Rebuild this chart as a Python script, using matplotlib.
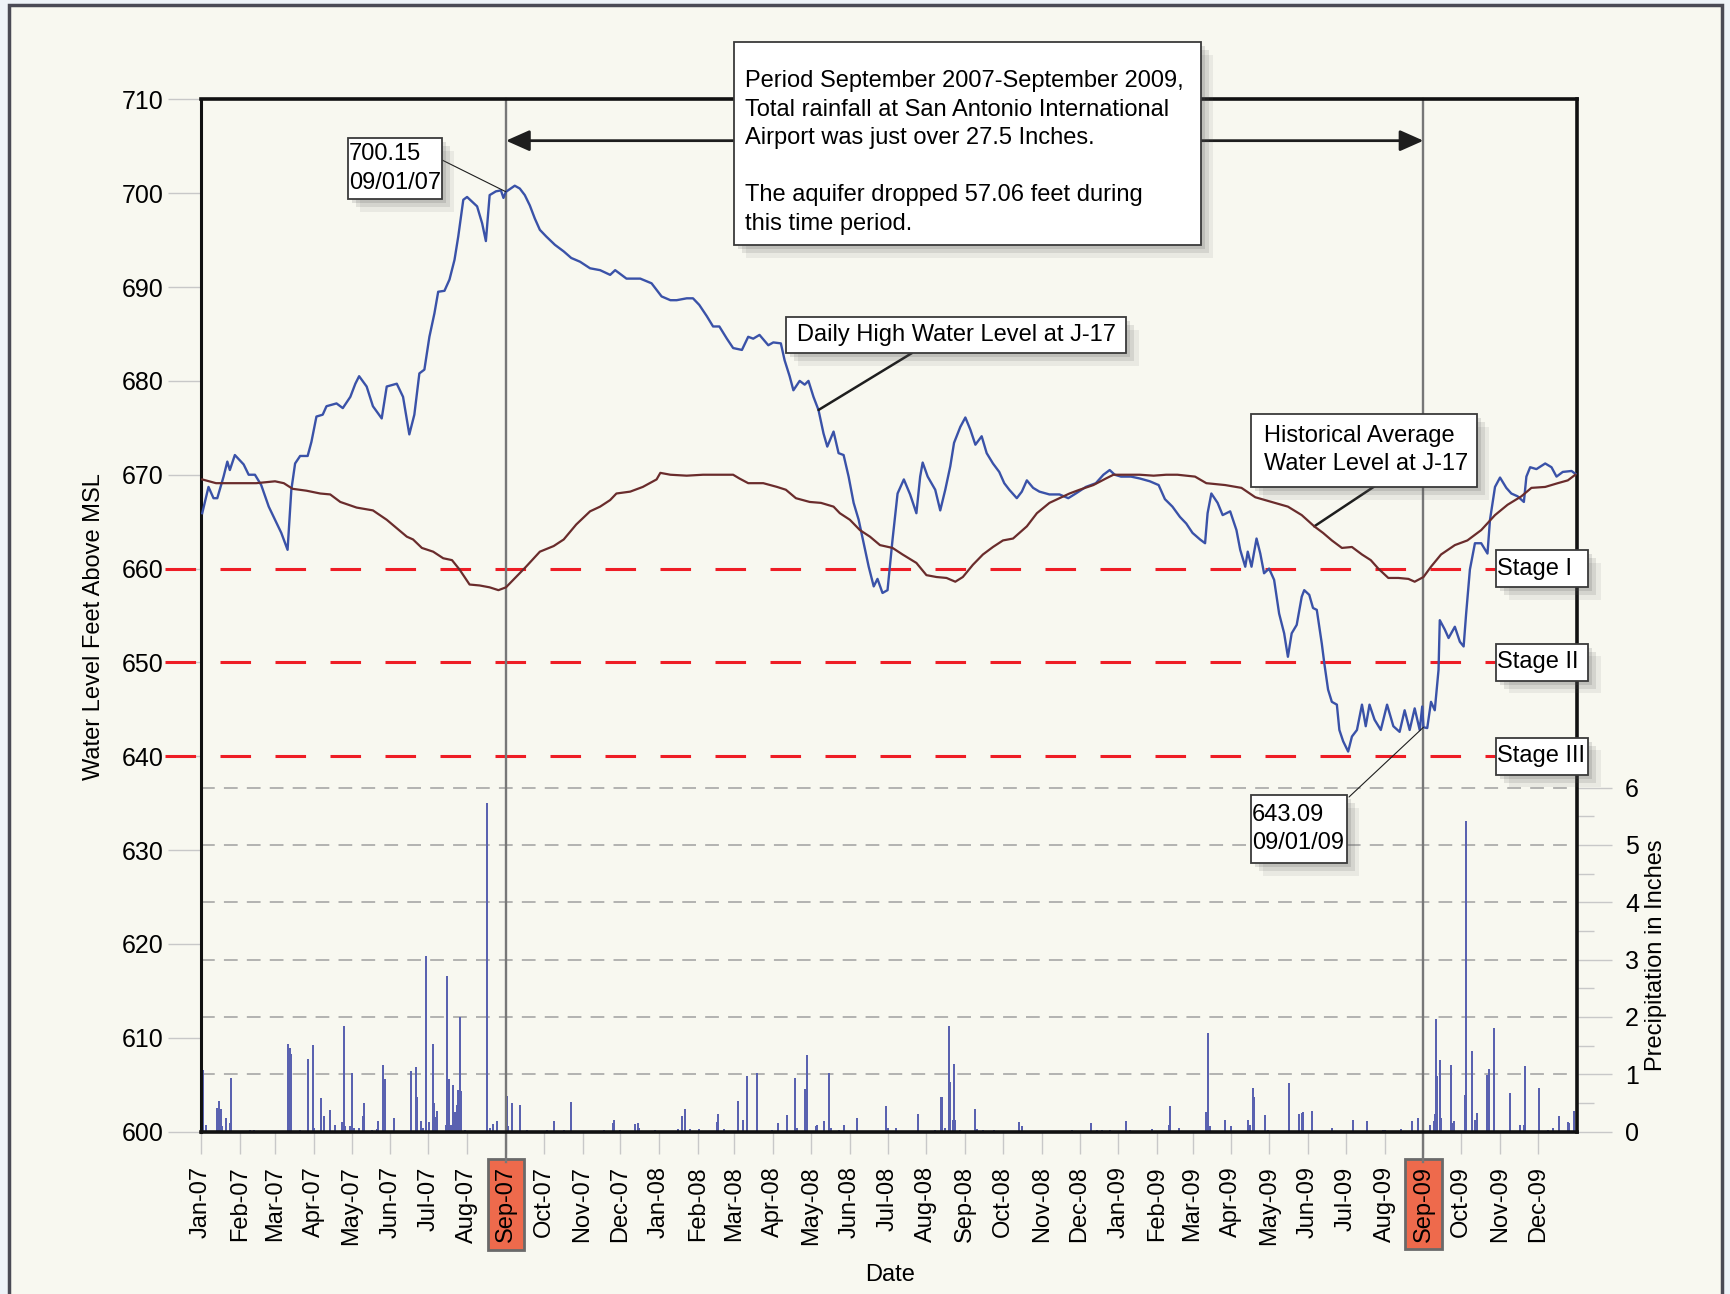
import numpy as np
import pandas as pd
import matplotlib
matplotlib.use("Agg")
import matplotlib.pyplot as plt
from matplotlib import patheffects
from matplotlib.patches import Rectangle

plt.rcParams['font.family'] = ['Liberation Sans', 'DejaVu Sans']

# all days are counted from 1 Jan 2007
start = np.datetime64('2007-01-01')
end = np.datetime64('2010-01-01')

# daily high water level at J-17 (ft above MSL)
high_days = [1, 6, 10, 13, 18, 21, 23, 27, 34, 38,
             43, 48, 54, 59, 64, 69, 72, 75, 79, 85,
             88, 92, 97, 100, 108, 113, 119, 123, 126, 132,
             137, 144, 148, 156, 161, 166, 170, 174, 178, 182,
             186, 189, 194, 198, 202, 205, 209, 212, 216, 220,
             224, 227, 230, 235, 239, 241, 243, 250, 254, 258,
             262, 266, 270, 275, 282, 289, 295, 302, 310, 318,
             326, 330, 339, 350, 359, 367, 374, 379, 387, 392,
             397, 403, 408, 413, 419, 424, 431, 436, 440, 445,
             452, 456, 462, 465, 469, 472, 477, 481, 484, 488,
             492, 496, 499, 504, 508, 512, 516, 520, 524, 528,
             532, 536, 539, 543, 547, 551, 555, 560, 565, 570,
             573, 575, 579, 585, 589, 593, 597, 600, 605, 609,
             613, 617, 622, 626, 631, 636, 640, 644, 650, 654,
             658, 663, 668, 676, 684, 691, 697, 705, 713, 719,
             724, 728, 733, 741, 748, 756, 763, 768, 774, 780,
             785, 790, 796, 800, 802, 805, 810, 814, 820, 825,
             828, 832, 834, 837, 841, 844, 847, 851, 855, 859,
             863, 866, 869, 873, 877, 879, 883, 886, 889, 893,
             895, 898, 901, 905, 907, 910, 914, 917, 921, 925,
             928, 931, 935, 940, 945, 950, 955, 959, 963, 967,
             971, 973, 974, 977, 980, 983, 986, 987, 991, 994,
             999, 1003, 1006, 1008, 1011, 1015, 1020, 1025, 1027, 1031,
             1035, 1040, 1044, 1049, 1054, 1056, 1059, 1064, 1071, 1076,
             1080, 1085, 1092, 1095]
high_ft = [665.9, 668.7, 667.5, 667.5, 669.8, 671.4, 670.5, 672.1, 671.1, 670.0,
           670.0, 668.9, 666.6, 665.2, 663.8, 662.0, 668.4, 671.2, 672.0, 672.0,
           673.5, 676.2, 676.4, 677.3, 677.6, 677.1, 678.3, 679.7, 680.5, 679.4,
           677.3, 676.0, 679.4, 679.7, 678.3, 674.3, 676.4, 680.8, 681.2, 684.7,
           687.2, 689.5, 689.6, 690.8, 692.9, 695.4, 699.3, 699.6, 699.1, 698.6,
           696.8, 694.9, 699.8, 700.2, 700.3, 699.5, 700.15, 700.8, 700.5, 699.8,
           698.7, 697.3, 696.1, 695.4, 694.5, 693.8, 693.1, 692.7, 692.0, 691.8,
           691.3, 691.8, 690.9, 690.9, 690.4, 689.0, 688.6, 688.6, 688.8, 688.8,
           688.1, 686.9, 685.8, 685.8, 684.5, 683.5, 683.3, 684.7, 684.5, 684.9,
           683.8, 684.1, 684.0, 682.2, 680.5, 679.0, 680.0, 679.6, 680.0, 678.3,
           676.9, 674.4, 673.0, 674.6, 672.3, 672.1, 669.8, 667.0, 665.2, 662.7,
           660.2, 658.1, 658.9, 657.4, 657.7, 663.1, 668.0, 669.5, 667.9, 665.9,
           669.8, 671.3, 669.8, 668.4, 666.2, 668.4, 670.9, 673.4, 675.1, 676.1,
           674.8, 673.2, 674.1, 672.3, 671.2, 670.3, 669.1, 668.4, 667.5, 668.2,
           669.4, 668.6, 668.2, 667.9, 667.9, 667.5, 668.0, 668.7, 669.1, 670.0,
           670.5, 670.0, 669.8, 669.8, 669.6, 669.3, 668.9, 667.4, 666.6, 665.5,
           664.8, 663.8, 663.1, 662.7, 665.9, 668.0, 667.0, 665.7, 666.1, 664.1,
           662.0, 660.2, 661.8, 660.2, 663.2, 661.6, 659.5, 660.0, 658.8, 655.2,
           653.1, 650.6, 653.1, 654.0, 657.0, 657.7, 657.2, 655.8, 655.6, 652.0,
           649.9, 647.1, 645.8, 645.5, 642.8, 641.6, 640.5, 642.1, 642.8, 645.5,
           643.2, 645.5, 643.9, 642.8, 645.5, 643.2, 642.6, 644.9, 642.8, 645.1,
           642.8, 645.3, 643.09, 643.0, 645.8, 644.9, 649.2, 654.5, 653.5, 652.6,
           653.8, 652.2, 651.7, 655.2, 659.9, 662.7, 662.7, 661.6, 665.2, 668.7,
           669.7, 668.6, 668.0, 667.7, 667.1, 669.8, 670.8, 670.6, 671.2, 670.8,
           669.8, 670.3, 670.4, 670.1]

# historical average water level at J-17
avg_days = [1, 12, 28, 44, 59, 66, 73, 84, 95, 103,
            111, 124, 137, 148, 156, 164, 169, 176, 185, 193,
            200, 206, 214, 222, 230, 237, 243, 251, 259, 270,
            281, 289, 299, 310, 318, 326, 331, 342, 352, 363,
            366, 374, 387, 400, 413, 424, 429, 436, 448, 459,
            466, 474, 485, 494, 504, 509, 517, 525, 533, 541,
            551, 559, 570, 578, 586, 594, 601, 607, 615, 623,
            631, 639, 647, 658, 666, 676, 684, 692, 700, 711,
            721, 727, 737, 748, 759, 769, 778, 792, 801, 816,
            829, 840, 853, 866, 877, 887, 894, 901, 909, 917,
            925, 932, 938, 946, 954, 962, 967, 974, 980, 988,
            999, 1009, 1020, 1031, 1041, 1052, 1060, 1071, 1081, 1089,
            1095]
avg_ft = [669.5, 669.1, 669.1, 669.1, 669.3, 669.1, 668.5, 668.3, 668.0, 667.9,
          667.1, 666.5, 666.2, 665.2, 664.3, 663.4, 663.1, 662.2, 661.8, 661.1,
          660.9, 659.9, 658.3, 658.2, 658.0, 657.7, 658.0, 659.1, 660.2, 661.8,
          662.4, 663.1, 664.7, 666.1, 666.6, 667.3, 668.0, 668.2, 668.7, 669.5,
          670.2, 670.0, 669.9, 670.0, 670.0, 670.0, 669.6, 669.1, 669.1, 668.7,
          668.4, 667.5, 667.1, 667.0, 666.6, 665.9, 665.2, 664.1, 663.4, 662.5,
          662.2, 661.5, 660.6, 659.3, 659.1, 659.0, 658.6, 659.1, 660.4, 661.5,
          662.3, 663.0, 663.2, 664.5, 665.9, 667.0, 667.5, 668.0, 668.4, 668.9,
          669.6, 670.0, 670.0, 670.0, 669.9, 670.0, 670.0, 669.8, 669.1, 668.9,
          668.6, 667.6, 667.1, 666.6, 665.7, 664.5, 663.8, 663.0, 662.2, 662.3,
          661.5, 660.9, 660.0, 659.0, 659.0, 658.9, 658.6, 659.1, 660.2, 661.5,
          662.5, 663.0, 664.1, 665.7, 666.8, 667.7, 668.6, 668.7, 669.1, 669.4,
          670.0]

# daily precipitation (inches)
rain_days = [2, 4, 13, 14, 16, 17, 20, 23, 24, 39,
             42, 69, 71, 72, 79, 85, 89, 90, 96, 98,
             103, 107, 112, 114, 115, 119, 120, 122, 126, 129,
             130, 136, 140, 141, 145, 147, 154, 167, 171, 172,
             175, 177, 179, 182, 185, 186, 187, 188, 195, 196,
             198, 199, 201, 202, 204, 205, 206, 207, 210, 228,
             230, 233, 236, 244, 245, 248, 254, 260, 276, 281,
             289, 295, 321, 328, 329, 334, 346, 348, 349, 362,
             380, 383, 386, 390, 397, 411, 412, 417, 428, 432,
             435, 443, 455, 460, 467, 473, 475, 481, 483, 490,
             491, 496, 500, 502, 508, 512, 523, 546, 547, 554,
             571, 585, 590, 593, 596, 597, 599, 600, 601, 605,
             617, 618, 623, 632, 652, 654, 694, 709, 714, 718,
             724, 737, 740, 758, 771, 772, 779, 801, 802, 804,
             816, 821, 834, 836, 838, 839, 848, 850, 867, 875,
             877, 878, 885, 901, 918, 929, 942, 943, 956, 965,
             970, 979, 982, 983, 984, 985, 987, 988, 996, 997,
             998, 1007, 1008, 1013, 1015, 1017, 1025, 1026, 1030, 1043,
             1051, 1054, 1055, 1066, 1073, 1077, 1082, 1089, 1090, 1094]
rain_in = [1.08, 0.12, 0.41, 0.53, 0.39, 0.09, 0.24, 0.15, 0.94, 0.03,
           0.03, 1.52, 1.46, 1.36, 0.03, 1.27, 1.51, 0.06, 0.59, 0.27,
           0.38, 0.12, 0.17, 1.84, 0.09, 0.09, 1.02, 0.06, 0.07, 0.27,
           0.50, 0.03, 0.05, 0.18, 1.17, 0.92, 0.23, 1.06, 1.12, 0.60,
           0.19, 0.07, 3.07, 0.17, 1.52, 0.50, 0.25, 0.36, 0.11, 2.72,
           0.92, 0.11, 0.81, 0.35, 0.47, 0.73, 2.00, 0.70, 0.03, 5.73,
           0.07, 0.13, 0.18, 0.62, 0.09, 0.50, 0.47, 0.03, 0.03, 0.19,
           0.03, 0.51, 0.03, 0.15, 0.21, 0.03, 0.13, 0.15, 0.06, 0.03,
           0.05, 0.27, 0.39, 0.05, 0.05, 0.17, 0.30, 0.05, 0.54, 0.21,
           0.97, 1.03, 0.03, 0.15, 0.29, 0.94, 0.07, 0.74, 1.33, 0.09,
           0.12, 0.18, 1.03, 0.06, 0.03, 0.11, 0.23, 0.44, 0.06, 0.07,
           0.30, 0.03, 0.60, 0.06, 1.84, 0.86, 0.21, 1.18, 0.21, 0.03,
           0.39, 0.05, 0.03, 0.03, 0.17, 0.09, 0.03, 0.15, 0.03, 0.03,
           0.03, 0.19, 0.03, 0.05, 0.12, 0.44, 0.06, 0.34, 1.72, 0.09,
           0.21, 0.10, 0.21, 0.12, 0.76, 0.60, 0.29, 0.03, 0.85, 0.30,
           0.33, 0.34, 0.36, 0.07, 0.21, 0.18, 0.03, 0.03, 0.05, 0.18,
           0.23, 0.11, 0.18, 0.30, 1.97, 0.97, 1.24, 0.24, 1.16, 0.15,
           0.18, 0.64, 5.41, 1.40, 0.21, 0.33, 0.98, 1.10, 1.81, 0.67,
           0.11, 0.11, 1.14, 0.76, 0.03, 0.07, 0.27, 0.17, 0.15, 0.36]

stage_levels = [660, 650, 640]
stage_names = ['Stage I', 'Stage II', 'Stage III']

period_start = '2007-09-01'
period_end = '2009-09-01'
peak_ft = 700.15
low_ft = 643.09

period_note = ("Period September 2007-September 2009,\n"
               "Total rainfall at San Antonio International\n"
               "Airport was just over 27.5 Inches.\n\n"
               "The aquifer dropped 57.06 feet during\n"
               "this time period.")


def to_dates(days):
    return start + np.array(days, dtype='timedelta64[D]')


W, H = 1731, 1294


def shadow():
    return [patheffects.SimplePatchShadow(offset=(3, -3), shadow_rgbFace='#555555', alpha=0.16),
            patheffects.SimplePatchShadow(offset=(6, -6), shadow_rgbFace='#555555', alpha=0.14),
            patheffects.SimplePatchShadow(offset=(9, -9), shadow_rgbFace='#555555', alpha=0.09),
            patheffects.Normal()]


def fig_box(left, top, right, bottom):
    r = Rectangle((left / W, 1 - bottom / H), (right - left) / W, (bottom - top) / H,
                  transform=fig.transFigure, facecolor='white', edgecolor='#3A3A3A',
                  lw=1.3, zorder=5)
    r.set_path_effects(shadow())
    fig.add_artist(r)


def fig_label(x, y, s, **kw):
    fig.text(x / W, 1 - y / H, s, fontsize=17, ha='left', va='center',
             linespacing=1.38, zorder=6, **kw)


fig = plt.figure(figsize=(17.31, 12.94), dpi=100, facecolor='#EEF3F8')
frame = Rectangle((0.0052, -0.02), 0.9896, 1.0158, transform=fig.transFigure,
                  facecolor='#F8F8F0', edgecolor='#4A4A55', lw=2.5, zorder=-10)
fig.add_artist(frame)

ax = fig.add_axes([0.1161, 0.1255, 0.7947, 0.7977])
ax2 = ax.twinx()
ax.set_zorder(ax2.get_zorder() + 1)
ax.patch.set_visible(False)
ax2.patch.set_visible(False)

# precipitation on the right axis
ax2.bar(to_dates(rain_days), rain_in, width=1.6, color='#5A62B0', zorder=2)
ax2.set_ylim(0, 18)
ax2.set_yticks(range(7))
ax2.set_yticks(np.arange(0.5, 6, 1), minor=True)
ax2.grid(axis='y', which='major', color='#A0A0A0', lw=1.1, ls=(0, (9, 6)))
ax2.tick_params(axis='y', which='major', length=25, width=1, color='#C8C8C8',
                pad=10, labelsize=18)
ax2.tick_params(axis='y', which='minor', length=12, width=1, color='#C8C8C8')
for s in ax2.spines.values():
    s.set_visible(False)

# water levels
ax.plot(to_dates(high_days), high_ft, color='#3A52A8', lw=1.7, zorder=3)
ax.plot(to_dates(avg_days), avg_ft, color='#6A2C2C', lw=1.6, zorder=4)

ax.set_xlim(start, end)
ax.set_ylim(600, 710)
ax.set_yticks(range(600, 711, 10))
ax.tick_params(axis='y', length=24, width=1, color='#C8C8C8', pad=3, labelsize=18)

months = pd.date_range('2007-01-01', '2009-12-01', freq='MS')
ax.set_xticks(months)
xlabels = ax.set_xticklabels(months.strftime('%b-%y'), rotation=90)
ax.tick_params(axis='x', length=16, width=1, color='#C8C8C8', pad=9, labelsize=17)
for lbl, m in zip(xlabels, months.strftime('%Y-%m-%d')):
    if m in (period_start, period_end):
        lbl.set_bbox(dict(boxstyle='square,pad=0.3', facecolor='#EE6A4C',
                          edgecolor='#6A6A6A', lw=2))

for name, s in ax.spines.items():
    s.set_color('#111111')
    s.set_linewidth(2.2 if name == 'left' else 2.6)

# stage lines and labels
ytrans = ax.get_yaxis_transform()
for lvl, name in zip(stage_levels, stage_names):
    ax.plot([-0.026, 0.941], [lvl, lvl], transform=ytrans, color='#EE1D25', lw=2.2,
            ls=(0, (10, 8)), clip_on=False, zorder=2)
    box = Rectangle((0.9415, lvl - 1.97), 0.0669, 3.94, transform=ytrans,
                    facecolor='white', edgecolor='#3A3A3A', lw=1.3, clip_on=False, zorder=6)
    box.set_path_effects(shadow())
    ax.add_patch(box)
    ax.text(0.9425, lvl, name, transform=ytrans, fontsize=17, ha='left', va='center',
            zorder=7, clip_on=False)

# period markers
p0, p1 = np.datetime64(period_start), np.datetime64(period_end)
for d in (p0, p1):
    ax.axvline(d, ymin=-0.029, ymax=1, color='#777777', lw=1.7, clip_on=False, zorder=2)
ax.annotate('', xy=(p0, 705.6), xytext=(p1, 705.6),
            arrowprops=dict(arrowstyle='<|-|>,head_length=0.9,head_width=0.4',
                            mutation_scale=16, color='#1E1E1E', lw=2,
                            shrinkA=0, shrinkB=0))

# leader lines
lead = dict(arrowstyle='-', color='#1E1E1E', shrinkA=0, shrinkB=0)
ax.annotate('', xy=(p0, peak_ft), xytext=(438 / W, 1 - 158 / H),
            textcoords='figure fraction', arrowprops=dict(lead, lw=0.8))
ax.annotate('', xy=(p1, low_ft), xytext=(1349 / W, 1 - 797 / H),
            textcoords='figure fraction', arrowprops=dict(lead, lw=0.8))
i = high_days.index(492)
ax.annotate('', xy=(to_dates([high_days[i]])[0], high_ft[i]), xytext=(912 / W, 1 - 353 / H),
            textcoords='figure fraction', arrowprops=dict(lead, lw=1.8))
j = avg_days.index(887)
ax.annotate('', xy=(to_dates([avg_days[j]])[0], avg_ft[j]), xytext=(1375 / W, 1 - 486 / H),
            textcoords='figure fraction', arrowprops=dict(lead, lw=1.8))

# boxes
fig_box(734, 42, 1201, 245)
fig.text(745 / W, 1 - 70.5 / H, period_note, fontsize=17, ha='left', va='top',
         linespacing=1.38, zorder=6)

fig_box(348, 138, 442, 199)
fig_label(349, 168.5, '700.15\n09/01/07')

fig_box(1251, 795, 1347, 863)
fig_label(1252, 829, '643.09\n09/01/09')

fig_box(786, 317, 1126, 353)
fig_label(797, 335, 'Daily High Water Level at J-17')

fig_box(1251, 414, 1477, 487)
fig_label(1264, 450, 'Historical Average\nWater Level at J-17')

# axis titles
fig.text(94 / W, 1 - 627 / H, 'Water Level Feet Above MSL', rotation=90,
         fontsize=17, ha='center', va='center')
fig.text(890 / W, 1 - 1275 / H, 'Date', fontsize=17, ha='center', va='center')
fig.text(1656 / W, 1 - 955 / H, 'Precipitation in Inches', rotation=90,
         fontsize=17, ha='center', va='center')

fig.savefig('out.png', dpi=100, facecolor=fig.get_facecolor())
